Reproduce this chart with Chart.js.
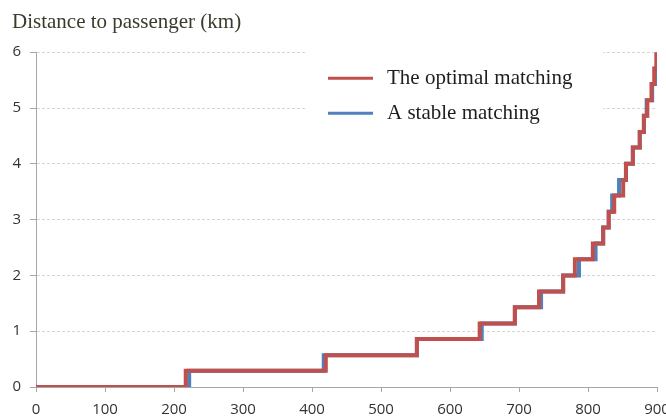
<!DOCTYPE html>
<html>
<head>
<meta charset="utf-8">
<script src="https://cdn.jsdelivr.net/npm/chart.js@4"></script>
<style>
  html, body { margin: 0; padding: 0; background: #fff; overflow: hidden; }
  #wrap { width: 680px; height: 419px; }
</style>
</head>
<body>
<div id="wrap"><canvas id="chart" width="680" height="419"></canvas></div>
<script>
// Datos (x = numero de conductores, y = distancia en km)
const chartTitle = 'Distance to passenger (km)';
const seriesNames = ['The optimal matching', 'A stable matching'];
const xTicks = [0, 100, 200, 300, 400, 500, 600, 700, 800, 900];
const yTicks = [0, 1, 2, 3, 4, 5, 6];

// cada punto marca donde sube el escalon y el nuevo nivel
const optimalX = [0, 217, 420, 552, 643, 694, 729, 764, 781, 807, 822, 830, 838, 851, 855, 865, 875, 881, 886, 892, 896, 899];
const optimalY = [0, 0.29, 0.57, 0.86, 1.14, 1.43, 1.71, 2.0, 2.29, 2.57, 2.86, 3.14, 3.43, 3.71, 4.0, 4.29, 4.57, 4.86, 5.14, 5.43, 5.71, 6.0];
const stableX = [0, 222, 417, 552, 646, 694, 732, 764, 787, 811, 822, 830, 835, 845, 855, 865, 875, 881, 885, 893, 898, 900];
const stableY = [0, 0.29, 0.57, 0.86, 1.14, 1.43, 1.71, 2.0, 2.29, 2.57, 2.86, 3.14, 3.43, 3.71, 4.0, 4.29, 4.57, 4.86, 5.14, 5.43, 5.71, 6.0];

const RED = '#c0504d';
const BLUE = '#4f81bd';
const GRID = '#d6d6d6';
const AXIS = '#a6a6a6';

function toPoints(xs, ys) {
  return xs.map((x, i) => ({ x: x, y: ys[i] }));
}

// Leyenda dentro del area, con fondo blanco que tapa la rejilla
const boxLegend = {
  id: 'boxLegend',
  beforeDatasetsDraw(chart) {
    const { ctx, chartArea } = chart;
    const left = chartArea.left + 269;
    const top = chartArea.top - 10;
    ctx.save();
    ctx.fillStyle = '#ffffff';
    ctx.fillRect(left, top, 298, 92);
    ctx.font = '21px "Liberation Serif", "Times New Roman", serif';
    ctx.textBaseline = 'middle';
    ctx.textAlign = 'left';
    chart.data.datasets.forEach((ds, i) => {
      const y = top + 36 + i * 35;
      ctx.strokeStyle = ds.borderColor;
      ctx.lineWidth = 3;
      ctx.beginPath();
      ctx.moveTo(left + 23, y);
      ctx.lineTo(left + 68, y);
      ctx.stroke();
      ctx.fillStyle = '#1e1e1e';
      ctx.fillText(ds.label, left + 82, y);
    });
    ctx.restore();
  }
};

const tickFont = { family: '"Open Sans", "Liberation Sans", sans-serif', size: 15 };

new Chart(document.getElementById('chart'), {
  type: 'line',
  data: {
    datasets: [
      {
        label: seriesNames[0],
        data: toPoints(optimalX, optimalY),
        borderColor: RED,
        backgroundColor: RED,
        borderWidth: 4,
        stepped: 'before',
        pointRadius: 0,
        fill: false
      },
      {
        label: seriesNames[1],
        data: toPoints(stableX, stableY),
        borderColor: BLUE,
        backgroundColor: BLUE,
        borderWidth: 4,
        stepped: 'before',
        pointRadius: 0,
        fill: false
      }
    ]
  },
  options: {
    responsive: false,
    animation: false,
    layout: { padding: { left: 12, right: 23, top: 0, bottom: 0 } },
    plugins: {
      legend: { display: false },
      tooltip: { enabled: false },
      title: {
        display: true,
        text: chartTitle,
        align: 'start',
        color: '#3b3b2c',
        font: { family: '"Liberation Serif", "Times New Roman", serif', size: 21, weight: 'normal' },
        padding: { top: 10, bottom: 17 }
      }
    },
    scales: {
      x: {
        type: 'linear',
        min: xTicks[0],
        max: xTicks[xTicks.length - 1],
        afterBuildTicks: (scale) => { scale.ticks = xTicks.map(v => ({ value: v })); },
        afterFit: (scale) => { scale.height = 32; },
        ticks: { color: '#333', font: tickFont, padding: 9, maxRotation: 0 },
        grid: { drawOnChartArea: false, drawTicks: true, tickLength: 5, tickColor: AXIS },
        border: { color: AXIS, width: 1 }
      },
      y: {
        min: yTicks[0],
        max: yTicks[yTicks.length - 1],
        afterBuildTicks: (scale) => { scale.ticks = yTicks.map(v => ({ value: v })); },
        afterFit: (scale) => { scale.width = 24; },
        ticks: { color: '#333', font: tickFont, padding: 9 },
        grid: {
          color: (c) => (c.tick && c.tick.value === 0 ? 'rgba(0,0,0,0)' : GRID),
          tickLength: 6,
          tickColor: AXIS,
          tickBorderDash: []
        },
        border: { color: AXIS, width: 1, dash: [3, 2] }
      }
    }
  },
  plugins: [boxLegend]
});
</script>
</body>
</html>
